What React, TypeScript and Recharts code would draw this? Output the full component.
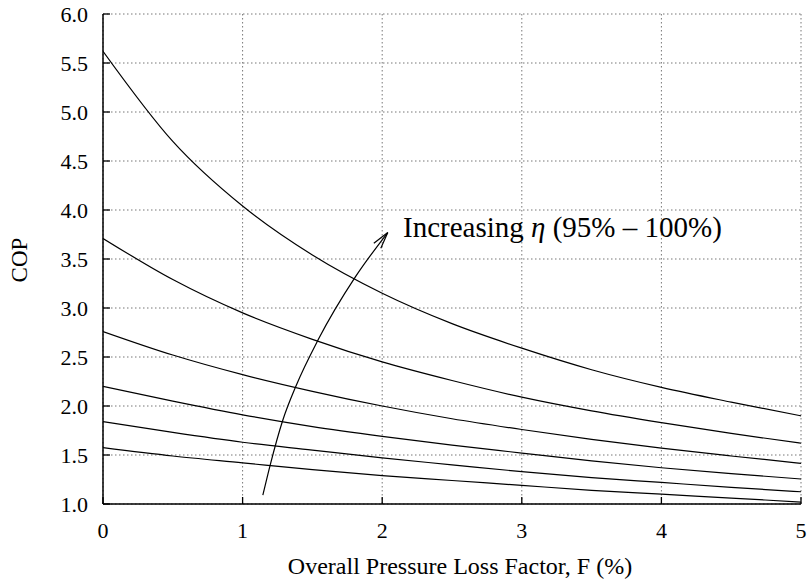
import React from "react";
import {
  ComposedChart,
  Line,
  XAxis,
  YAxis,
  CartesianGrid,
} from "recharts";

// pressure loss factor F (%)
const lossFactor = [0, 0.5, 1, 1.5, 2, 2.5, 3, 3.5, 4, 4.5, 5];

// COP curves, one per efficiency (lowest eta last)
const cop1 = [5.62, 4.7, 4.04, 3.54, 3.15, 2.84, 2.59, 2.37, 2.19, 2.04, 1.9];
const cop2 = [3.71, 3.29, 2.95, 2.68, 2.45, 2.26, 2.09, 1.95, 1.83, 1.72, 1.62];
const cop3 = [2.76, 2.52, 2.32, 2.15, 2.0, 1.87, 1.76, 1.66, 1.57, 1.49, 1.415];
const cop4 = [2.2, 2.05, 1.91, 1.79, 1.69, 1.6, 1.52, 1.44, 1.37, 1.31, 1.255];
const cop5 = [1.84, 1.73, 1.63, 1.55, 1.47, 1.4, 1.33, 1.27, 1.22, 1.17, 1.125];
const cop6 = [1.575, 1.49, 1.42, 1.35, 1.29, 1.24, 1.19, 1.14, 1.1, 1.06, 1.02];
const curves = [cop1, cop2, cop3, cop4, cop5, cop6];

// annotation arrow path and head
const arrowF = [1.145, 1.198, 1.289, 1.384, 1.539, 1.809, 2.04];
const arrowCop = [1.09, 1.4, 1.86, 2.21, 2.67, 3.32, 3.77];
const headF = [1.94, 2.04, 1.99];
const headCop = [3.66, 3.77, 3.61];

const xTicks = [0, 1, 2, 3, 4, 5];
const yTicks = [1.0, 1.5, 2.0, 2.5, 3.0, 3.5, 4.0, 4.5, 5.0, 5.5, 6.0];

const toRows = (xs: number[], ys: number[]) =>
  xs.map((F, i) => ({ F, cop: ys[i] }));

const FONT = "'Liberation Serif', 'Times New Roman', serif";

// plain serif tick text (bottom and left axes)
const XTick = (props: any) => {
  const { x, y, payload } = props;
  return (
    <text x={x} y={y} dy="0.71em" textAnchor="middle" fontFamily={FONT} fontSize={22} fill="#000">
      {payload.value}
    </text>
  );
};

const YTick = (props: any) => {
  const { x, y, payload } = props;
  return (
    <text x={x} y={y} dy="0.355em" textAnchor="end" fontFamily={FONT} fontSize={22} fill="#000">
      {Number(payload.value).toFixed(1)}
    </text>
  );
};

const frame = { stroke: "#000", strokeWidth: 1.5 };
const tickMark = { stroke: "#000", strokeWidth: 1.3 };

export default function App() {
  return (
    <div style={{ position: "absolute", left: 0, top: 0, width: 811, height: 583, background: "#fff" }}>
      <ComposedChart
        width={811}
        height={583}
        margin={{ top: 14, right: 10, left: 0, bottom: 0 }}
      >
        <CartesianGrid
          stroke="#777"
          strokeDasharray="1.5 2.5"
          horizontalValues={yTicks}
          verticalValues={xTicks}
        />
        <XAxis
          dataKey="F"
          type="number"
          domain={[0, 5]}
          ticks={xTicks}
          height={79}
          tickSize={-7}
          tickMargin={25}
          tick={<XTick />}
          axisLine={frame}
          tickLine={tickMark}
          allowDataOverflow
        />
        <XAxis
          xAxisId="top"
          orientation="top"
          dataKey="F"
          type="number"
          domain={[0, 5]}
          ticks={xTicks}
          height={0}
          tickSize={-7}
          tick={false}
          axisLine={frame}
          tickLine={tickMark}
          allowDataOverflow
        />
        <YAxis
          type="number"
          domain={[1, 6]}
          ticks={yTicks}
          width={103}
          tickSize={-7}
          tickMargin={22}
          tick={<YTick />}
          axisLine={frame}
          tickLine={tickMark}
          allowDataOverflow
        />
        <YAxis
          yAxisId="right"
          orientation="right"
          type="number"
          domain={[1, 6]}
          ticks={yTicks}
          width={0}
          tickSize={-7}
          tick={false}
          axisLine={frame}
          tickLine={tickMark}
          allowDataOverflow
        />
        {curves.map((c, i) => (
          <Line
            key={i}
            data={toRows(lossFactor, c)}
            dataKey="cop"
            type="monotone"
            stroke="#000"
            strokeWidth={1.2}
            dot={false}
            isAnimationActive={false}
          />
        ))}
        <Line
          data={toRows(arrowF, arrowCop)}
          dataKey="cop"
          type="monotone"
          stroke="#000"
          strokeWidth={1.2}
          dot={false}
          isAnimationActive={false}
        />
        <Line
          data={toRows(headF, headCop)}
          dataKey="cop"
          type="linear"
          stroke="#000"
          strokeWidth={1.2}
          dot={false}
          isAnimationActive={false}
        />
      </ComposedChart>
      <div
        style={{
          position: "absolute",
          left: 403,
          top: 213,
          fontFamily: FONT,
          fontSize: 29,
          lineHeight: 1,
          whiteSpace: "nowrap",
          color: "#000",
        }}
      >
        Increasing <i>η</i> (95% – 100%)
      </div>
      <div
        style={{
          position: "absolute",
          left: 19,
          top: 260,
          transform: "translate(-50%, -50%) rotate(-90deg)",
          fontFamily: FONT,
          fontSize: 23,
          lineHeight: 1,
          color: "#000",
        }}
      >
        COP
      </div>
      <div
        style={{
          position: "absolute",
          left: 460,
          top: 554,
          transform: "translateX(-50%)",
          fontFamily: FONT,
          fontSize: 24,
          lineHeight: 1,
          whiteSpace: "nowrap",
          color: "#000",
        }}
      >
        Overall Pressure Loss Factor, F (%)
      </div>
    </div>
  );
}
